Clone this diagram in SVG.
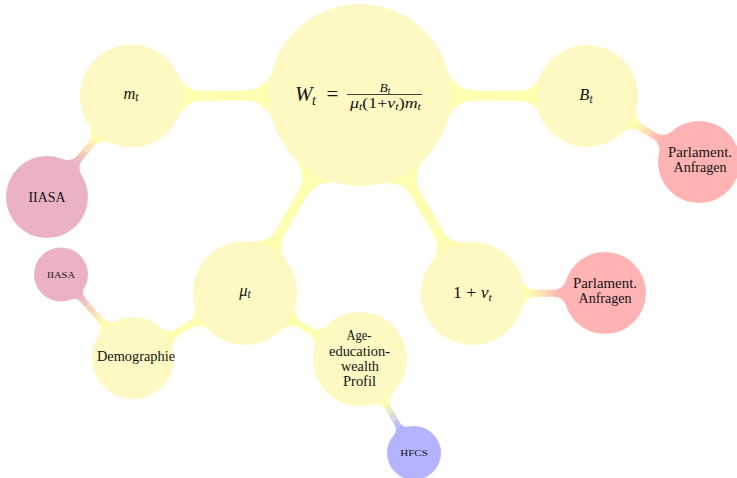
<svg xmlns="http://www.w3.org/2000/svg" width="737" height="478" viewBox="0 0 737 478">
<style>
.cy{fill:#FEF8C3}
.cp{fill:#EBB2C6}
.cr{fill:#FFB3B3}
.cb{fill:#B3B3FF}
.bar{fill:#FFFDB0}
.seam{stroke:#ffffff;stroke-width:0.7;stroke-opacity:0.8}
text{font-family:"Liberation Serif","Times New Roman",serif;fill:#141414}
.c{text-anchor:middle}
.i{font-style:italic}
</style>
<defs>
<path id="wbar" d="M87.47,25.01 A27.6,27.6 0 0 1 114,5 L159.5,5 A22.2,22.2 0 0 1 180.13,19.01 L205,0 L180.13,-19.01 A22.2,22.2 0 0 1 159.5,-5 L114,-5 A27.6,27.6 0 0 1 87.47,-25.01 Z"/>
<linearGradient id="g5" gradientUnits="userSpaceOnUse" x1="56" y1="0" x2="88" y2="0"><stop offset="0" stop-color="#FFFDB0"/><stop offset="1" stop-color="#EBB2C6"/></linearGradient>
<linearGradient id="g6" gradientUnits="userSpaceOnUse" x1="56" y1="0" x2="87" y2="0"><stop offset="0" stop-color="#FFFDB0"/><stop offset="1" stop-color="#FFB3B3"/></linearGradient>
<linearGradient id="g7" gradientUnits="userSpaceOnUse" x1="56" y1="0" x2="89" y2="0"><stop offset="0" stop-color="#FFFDB0"/><stop offset="1" stop-color="#FFB3B3"/></linearGradient>
<linearGradient id="g10" gradientUnits="userSpaceOnUse" x1="46" y1="0" x2="82" y2="0"><stop offset="0" stop-color="#FFFDB0"/><stop offset="1" stop-color="#EBB2C6"/></linearGradient>
<linearGradient id="g11" gradientUnits="userSpaceOnUse" x1="52" y1="0" x2="80" y2="0"><stop offset="0" stop-color="#FFFDB0"/><stop offset="1" stop-color="#B3B3FF"/></linearGradient>
</defs>

<g id="connectors">
  <g transform="translate(360,95) rotate(179.75)"><use href="#wbar" class="bar"/><line class="seam" x1="152" y1="-5" x2="152" y2="5"/></g>
  <g transform="translate(360,95) rotate(0.25)"><use href="#wbar" class="bar"/><line class="seam" x1="152" y1="-5" x2="152" y2="5"/></g>
  <g transform="translate(360,95) rotate(120.14)"><use href="#wbar" class="bar"/><line class="seam" x1="152" y1="-5" x2="152" y2="5"/></g>
  <g transform="translate(360,95) rotate(60.46)"><use href="#wbar" class="bar"/><line class="seam" x1="152" y1="-5" x2="152" y2="5"/></g>
  <g transform="translate(131.5,96) rotate(129.92)"><path fill="url(#g5)" d="M49.63,13.76 A14,14 0 0 1 63.12,3.5 L81.02,3.5 A12,12 0 0 1 92.49,11.99 L110,0 L92.49,-11.99 A12,12 0 0 1 81.02,-3.5 L63.12,-3.5 A14,14 0 0 1 49.63,-13.76 Z"/><line class="seam" x1="71" y1="-3.5" x2="71" y2="3.5"/></g>
  <g transform="translate(587,96) rotate(30.51)"><path fill="url(#g6)" d="M49.12,13.73 A14,14 0 0 1 62.6,3.5 L79.32,3.5 A12,12 0 0 1 90.79,11.99 L110,0 L90.79,-11.99 A12,12 0 0 1 79.32,-3.5 L62.6,-3.5 A14,14 0 0 1 49.12,-13.73 Z"/><line class="seam" x1="72" y1="-3.5" x2="72" y2="3.5"/></g>
  <g transform="translate(472.5,293.5) rotate(-0.22)"><path fill="url(#g7)" d="M49.63,13.76 A14,14 0 0 1 63.12,3.5 L81.82,3.5 A12,12 0 0 1 93.29,11.99 L112,0 L93.29,-11.99 A12,12 0 0 1 81.82,-3.5 L63.12,-3.5 A14,14 0 0 1 49.63,-13.76 Z"/><line class="seam" x1="72.5" y1="-3.5" x2="72.5" y2="3.5"/></g>
  <g transform="translate(245,293) rotate(149.87)"><path class="bar" d="M50.14,13.79 A14,14 0 0 1 63.64,3.5 L78.82,3.5 A12,12 0 0 1 90.29,11.99 L108,0 L90.29,-11.99 A12,12 0 0 1 78.82,-3.5 L63.64,-3.5 A14,14 0 0 1 50.14,-13.79 Z"/><line class="seam" x1="72" y1="-3.5" x2="72" y2="3.5"/></g>
  <g transform="translate(245,293) rotate(29.85)"><path class="bar" d="M50.14,13.79 A14,14 0 0 1 63.64,3.5 L75.67,3.5 A12,12 0 0 1 87.25,12.35 L110,0 L87.25,-12.35 A12,12 0 0 1 75.67,-3.5 L63.64,-3.5 A14,14 0 0 1 50.14,-13.79 Z"/><line class="seam" x1="66" y1="-3.5" x2="66" y2="3.5"/></g>
  <g transform="translate(133,358) rotate(-130.77)"><path fill="url(#g10)" d="M39.32,11.6 A12,12 0 0 1 50.83,3 L77.02,3 A8,8 0 0 1 84.62,8.49 L98,0 L84.62,-8.49 A8,8 0 0 1 77.02,-3 L50.83,-3 A12,12 0 0 1 39.32,-11.6 Z"/><line class="seam" x1="69" y1="-3" x2="69" y2="3"/></g>
  <g transform="translate(360,359) rotate(60.12)"><path fill="url(#g11)" d="M45.45,11.95 A12,12 0 0 1 57.06,3 L75.17,3 A8,8 0 0 1 82.77,8.49 L96,0 L82.77,-8.49 A8,8 0 0 1 75.17,-3 L57.06,-3 A12,12 0 0 1 45.45,-11.95 Z"/><line class="seam" x1="69" y1="-3" x2="69" y2="3"/></g>
</g>

<g id="node-W">
  <circle class="cy" cx="360" cy="95" r="91"/>
  <text x="295" y="101" font-size="21" class="i">W</text>
  <text x="312" y="104.5" font-size="14" class="i">t</text>
  <text x="332.5" y="101" font-size="21" class="c">=</text>
  <text x="385" y="91.5" font-size="13.5" class="c"><tspan class="i">B</tspan><tspan class="i" font-size="9.5" dy="2">t</tspan></text>
  <line x1="347" y1="94.5" x2="422" y2="94.5" stroke="#141414" stroke-width="0.8"/>
  <text x="350" y="107.5" font-size="14" textLength="71" lengthAdjust="spacingAndGlyphs"><tspan class="i">μ</tspan><tspan class="i" font-size="9.5" dy="2">t</tspan><tspan dy="-2">(1+</tspan><tspan class="i">v</tspan><tspan class="i" font-size="9.5" dy="2">t</tspan><tspan dy="-2">)</tspan><tspan class="i">m</tspan><tspan class="i" font-size="9.5" dy="2">t</tspan></text>
</g>

<g id="node-m">
  <circle class="cy" cx="131.5" cy="96" r="51.5"/>
  <text x="131" y="98.5" font-size="16.5" class="c"><tspan class="i">m</tspan><tspan class="i" font-size="11.5" dy="2.5">t</tspan></text>
</g>

<g id="node-B">
  <circle class="cy" cx="587" cy="96" r="51"/>
  <text x="586" y="100" font-size="16.5" class="c"><tspan class="i">B</tspan><tspan class="i" font-size="11.5" dy="2.5">t</tspan></text>
</g>

<g id="node-mu">
  <circle class="cy" cx="245" cy="293" r="52"/>
  <text x="245" y="295.5" font-size="16.5" class="c"><tspan class="i">μ</tspan><tspan class="i" font-size="11.5" dy="2.5">t</tspan></text>
</g>

<g id="node-v">
  <circle class="cy" cx="472.5" cy="293.5" r="51.5"/>
  <text x="472.5" y="298" font-size="16" class="c" textLength="39" lengthAdjust="spacingAndGlyphs">1 + <tspan class="i">v</tspan><tspan class="i" font-size="11" dy="2.5">t</tspan></text>
</g>

<g id="node-iiasa1">
  <circle class="cp" cx="47" cy="197" r="41"/>
  <text x="47" y="202" font-size="14" class="c" textLength="37" lengthAdjust="spacingAndGlyphs">IIASA</text>
</g>

<g id="node-parl1">
  <circle class="cr" cx="699" cy="162" r="41"/>
  <text x="700" y="157" font-size="14" class="c" textLength="64" lengthAdjust="spacingAndGlyphs">Parlament.</text>
  <text x="700" y="171.5" font-size="14" class="c" textLength="53" lengthAdjust="spacingAndGlyphs">Anfragen</text>
</g>

<g id="node-parl2">
  <circle class="cr" cx="605" cy="293" r="41"/>
  <text x="605" y="288" font-size="14" class="c" textLength="64" lengthAdjust="spacingAndGlyphs">Parlament.</text>
  <text x="605" y="302.5" font-size="14" class="c" textLength="53" lengthAdjust="spacingAndGlyphs">Anfragen</text>
</g>

<g id="node-demo">
  <circle class="cy" cx="133" cy="358" r="41"/>
  <text x="136" y="360.5" font-size="14" class="c" textLength="78" lengthAdjust="spacingAndGlyphs">Demographie</text>
</g>

<g id="node-iiasa2">
  <circle class="cp" cx="61" cy="274.5" r="27"/>
  <text x="61" y="277.5" font-size="8.5" class="c" textLength="28" lengthAdjust="spacingAndGlyphs">IIASA</text>
</g>

<g id="node-age">
  <circle class="cy" cx="360" cy="359" r="47"/>
  <text x="359" y="340" font-size="14" class="c" textLength="25" lengthAdjust="spacingAndGlyphs">Age-</text>
  <text x="359.5" y="355.5" font-size="14" class="c" textLength="61" lengthAdjust="spacingAndGlyphs">education-</text>
  <text x="360" y="370.5" font-size="14" class="c" textLength="38" lengthAdjust="spacingAndGlyphs">wealth</text>
  <text x="359.5" y="385.5" font-size="14" class="c" textLength="33" lengthAdjust="spacingAndGlyphs">Profil</text>
</g>

<g id="node-hfcs">
  <circle class="cb" cx="414" cy="453" r="27"/>
  <text x="414" y="455.5" font-size="8.5" class="c" textLength="27.5" lengthAdjust="spacingAndGlyphs">HFCS</text>
</g>
</svg>
